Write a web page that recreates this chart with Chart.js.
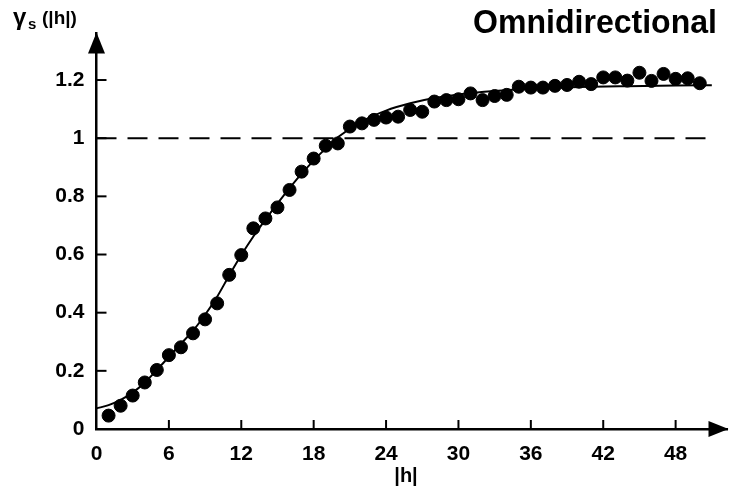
<!DOCTYPE html>
<html>
<head>
<meta charset="utf-8">
<script src="https://cdn.jsdelivr.net/npm/chart.js@4"></script>
<style>
  html, body { margin: 0; padding: 0; background: #fff; }
  #wrap { width: 735px; height: 493px; }
</style>
</head>
<body>
<div id="wrap"><canvas id="vario"></canvas></div>
<script>
// experimental semivariogram, lag 1..50
const lags = [1, 2, 3, 4, 5, 6, 7, 8, 9, 10, 11, 12, 13, 14, 15, 16, 17, 18, 19, 20,
    21, 22, 23, 24, 25, 26, 27, 28, 29, 30, 31, 32, 33, 34, 35, 36, 37, 38, 39, 40,
    41, 42, 43, 44, 45, 46, 47, 48, 49, 50];
const gammaValues = [0.046, 0.080, 0.115, 0.160, 0.203, 0.254, 0.281, 0.329, 0.377, 0.432,
    0.530, 0.598, 0.690, 0.724, 0.762, 0.822, 0.885, 0.930, 0.974, 0.982,
    1.040, 1.051, 1.063, 1.071, 1.074, 1.097, 1.091, 1.126, 1.131, 1.134,
    1.154, 1.131, 1.145, 1.149, 1.177, 1.174, 1.174, 1.180, 1.183, 1.194,
    1.186, 1.209, 1.209, 1.198, 1.225, 1.197, 1.221, 1.204, 1.206, 1.189];

// fitted model
const modelLags = [0, 1, 2, 3, 4, 5, 6, 7, 8, 9, 10, 11, 12, 13, 14, 15, 16, 17, 18, 19, 20,
    22, 24, 26, 28, 30, 33, 36, 40, 44, 48, 51];
const modelValues = [0.071, 0.082, 0.100, 0.125, 0.160, 0.203, 0.248, 0.293, 0.338, 0.393, 0.455,
    0.528, 0.598, 0.662, 0.720, 0.775, 0.828, 0.878, 0.923, 0.965, 1.003,
    1.058, 1.095, 1.120, 1.138, 1.150, 1.162, 1.170, 1.176, 1.179, 1.181, 1.182];

// sill reference
const sillLags = [0, 50.9];
const sillValues = [1, 1];

const xTickValues = [0, 6, 12, 18, 24, 30, 36, 42, 48];
const yTickValues = [0, 0.2, 0.4, 0.6, 0.8, 1, 1.2];
const yTickLabels = ['0', '0.2', '0.4', '0.6', '0.8', '1', '1.2'];

const FONT = "'Liberation Sans', Arial, sans-serif";
const INK = '#000';

const toPoints = (xs, ys) => xs.map((x, i) => ({ x, y: ys[i] }));

// text squeezed horizontally to a given width
function fitText(ctx, text, xRight, y, width) {
    const w = ctx.measureText(text).width;
    ctx.save();
    ctx.translate(xRight - width, y);
    ctx.scale(width / w, 1);
    ctx.textAlign = 'left';
    ctx.fillText(text, 0, 0);
    ctx.restore();
}

const axisDecor = {
    id: 'axisDecor',
    afterDraw(chart) {
        const { ctx, chartArea, scales } = chart;
        const { left, bottom, right, top } = chartArea;
        ctx.save();
        ctx.fillStyle = INK;
        ctx.strokeStyle = INK;
        ctx.lineWidth = 2;

        // tick marks pointing into the plot
        yTickValues.forEach(v => {
            if (v === 0) return;
            const y = scales.y.getPixelForValue(v);
            ctx.beginPath();
            ctx.moveTo(left, y);
            ctx.lineTo(left + 10, y);
            ctx.stroke();
        });
        xTickValues.forEach(v => {
            if (v === 0) return;
            const x = scales.x.getPixelForValue(v);
            ctx.beginPath();
            ctx.moveTo(x, bottom);
            ctx.lineTo(x, bottom - 9);
            ctx.stroke();
        });

        // arrow heads
        ctx.beginPath();
        ctx.moveTo(left, top - 1);
        ctx.lineTo(left - 8.5, top + 20);
        ctx.lineTo(left + 8.5, top + 20);
        ctx.closePath();
        ctx.fill();

        ctx.beginPath();
        ctx.moveTo(right + 1, bottom);
        ctx.lineTo(right - 19, bottom - 8);
        ctx.lineTo(right - 19, bottom + 8);
        ctx.closePath();
        ctx.fill();

        // titles
        ctx.textBaseline = 'alphabetic';
        ctx.font = `bold 34px ${FONT}`;
        fitText(ctx, 'Omnidirectional', 717, 33, 244);

        ctx.textAlign = 'left';
        ctx.font = `bold 24px ${FONT}`;
        ctx.fillText('γ', 13, 25);
        ctx.font = `bold 15px ${FONT}`;
        ctx.fillText('s', 28, 29);
        ctx.font = `bold 19px ${FONT}`;
        ctx.fillText('(|h|)', 42, 24);

        ctx.textAlign = 'center';
        ctx.font = `bold 20px ${FONT}`;
        ctx.fillText('|h|', 406, 482);

        ctx.restore();
    }
};

new Chart(document.getElementById('vario'), {
    type: 'scatter',
    data: {
        datasets: [
            {
                label: 'sill',
                type: 'line',
                data: toPoints(sillLags, sillValues),
                borderColor: INK,
                borderWidth: 2,
                borderDash: [20, 11],
                pointRadius: 0,
                fill: false
            },
            {
                label: 'model',
                type: 'line',
                data: toPoints(modelLags, modelValues),
                borderColor: INK,
                borderWidth: 2,
                pointRadius: 0,
                cubicInterpolationMode: 'monotone',
                fill: false
            },
            {
                label: 'experimental',
                data: toPoints(lags, gammaValues),
                backgroundColor: INK,
                borderColor: INK,
                pointRadius: 6.5,
                pointHoverRadius: 6.5,
                clip: false
            }
        ]
    },
    options: {
        responsive: true,
        maintainAspectRatio: false,
        animation: false,
        layout: { padding: { top: 33.5, right: 0, left: 0, bottom: 0 } },
        plugins: {
            legend: { display: false },
            tooltip: { enabled: false }
        },
        scales: {
            x: {
                type: 'linear',
                min: 0,
                max: 52.3,
                afterFit(scale) { scale.height = 64; },
                afterBuildTicks(scale) { scale.ticks = xTickValues.map(value => ({ value })); },
                grid: { display: false, drawTicks: false },
                border: { display: true, color: INK, width: 2.5 },
                ticks: {
                    padding: 13,
                    color: INK,
                    font: { family: FONT, size: 21, weight: 'bold' },
                    maxRotation: 0,
                    autoSkip: false
                }
            },
            y: {
                type: 'linear',
                min: 0,
                max: 1.36,
                afterFit(scale) { scale.width = 96.5; },
                afterBuildTicks(scale) { scale.ticks = yTickValues.map(value => ({ value })); },
                grid: { display: false, drawTicks: false },
                border: { display: true, color: INK, width: 2.5 },
                ticks: {
                    padding: 12,
                    color: INK,
                    font: { family: FONT, size: 21, weight: 'bold' },
                    autoSkip: false,
                    callback: (value, index) => yTickLabels[index]
                }
            }
        }
    },
    plugins: [axisDecor]
});
</script>
</body>
</html>
